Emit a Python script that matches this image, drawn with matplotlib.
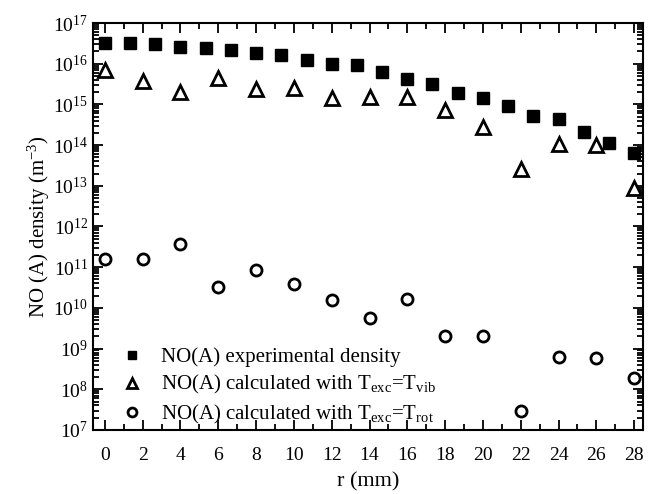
import numpy as np
import matplotlib
matplotlib.use("Agg")
import matplotlib.pyplot as plt

# ---------------- data ----------------
r_exp = [0, 1.33, 2.67, 4, 5.33, 6.67, 8, 9.33, 10.67, 12, 13.33,
         14.67, 16, 17.33, 18.67, 20, 21.33, 22.67, 24, 25.33, 26.67, 28]
n_exp = [3.2e16, 3.2e16, 3.0e16, 2.6e16, 2.4e16, 2.2e16, 1.8e16, 1.65e16,
         1.2e16, 1.0e16, 9.1e15, 6.4e15, 4.2e15, 3.2e15, 1.95e15, 1.45e15,
         9.1e14, 5.2e14, 4.3e14, 2.1e14, 1.1e14, 6.3e13]

r_calc = [0, 2, 4, 6, 8, 10, 12, 14, 16, 18, 20, 22, 24, 26, 28]
n_vib = [7.0e15, 3.7e15, 2.0e15, 4.4e15, 2.4e15, 2.6e15, 1.4e15, 1.5e15,
         1.5e15, 7.3e14, 2.8e14, 2.6e13, 1.05e14, 1.0e14, 8.7e12]
n_rot = [1.6e11, 1.6e11, 3.7e11, 3.2e10, 8.4e10, 3.8e10, 1.6e10, 5.7e9,
         1.65e10, 2.0e9, 2.0e9, 3.0e7, 6.3e8, 5.8e8, 1.9e8]

labels = ["NO(A) experimental density",
          r"NO(A) calculated with T$_{\rm exc}$=T$_{\rm vib}$",
          r"NO(A) calculated with T$_{\rm exc}$=T$_{\rm rot}$"]

# ---------------- style ----------------
plt.rcParams["font.family"] = ["Liberation Serif", "DejaVu Serif"]
plt.rcParams["mathtext.fontset"] = "custom"
plt.rcParams["mathtext.rm"] = "Liberation Serif"
plt.rcParams["mathtext.it"] = "Liberation Serif:italic"
plt.rcParams["mathtext.bf"] = "Liberation Serif:bold"

fig = plt.figure(figsize=(6.52, 4.94), dpi=100)
ax = fig.add_axes([0.1426, 0.1296, 0.8436, 0.8238])

ax.plot(r_exp, n_exp, ls="none", marker="s", ms=8, color="black", label=labels[0])
ax.plot(r_calc, n_vib, ls="none", marker="^", ms=9.5, mfc="white", mec="black",
        mew=2, label=labels[1])
ax.plot(r_calc, n_rot, ls="none", marker="o", ms=8, mfc="white", mec="black",
        mew=2, label=labels[2])

ax.set_yscale("log")
ax.set_xlim(-0.63, 28.47)
ax.set_ylim(1e7, 1e17)
ax.set_xticks(np.arange(0, 29, 2))
ax.set_xticks(np.arange(1, 29, 2), minor=True)
ax.set_yticks([10.0 ** k for k in range(7, 18)])
ax.yaxis.set_minor_locator(matplotlib.ticker.LogLocator(base=10, subs=np.arange(2, 10), numticks=20))
ax.yaxis.set_minor_formatter(matplotlib.ticker.NullFormatter())

ax.tick_params(which="both", direction="in", top=True, right=True, width=1.3, labelsize=14)
ax.tick_params(which="major", length=7)
ax.tick_params(which="minor", length=4)
ax.tick_params(axis="x", pad=12)
for s in ax.spines.values():
    s.set_linewidth(1.5)

ax.set_xlabel("r (mm)", fontsize=16, labelpad=6)
ax.set_ylabel(r"NO (A) density (m$^{-3}$)", fontsize=15, labelpad=1)

ax.legend(loc="lower left", bbox_to_anchor=(0.03, -0.02), frameon=False, fontsize=15,
          handlelength=1.0, handletextpad=0.85, labelspacing=0.3, markerscale=0.8,
          borderaxespad=0.2)

fig.savefig("out.png", dpi=100)
